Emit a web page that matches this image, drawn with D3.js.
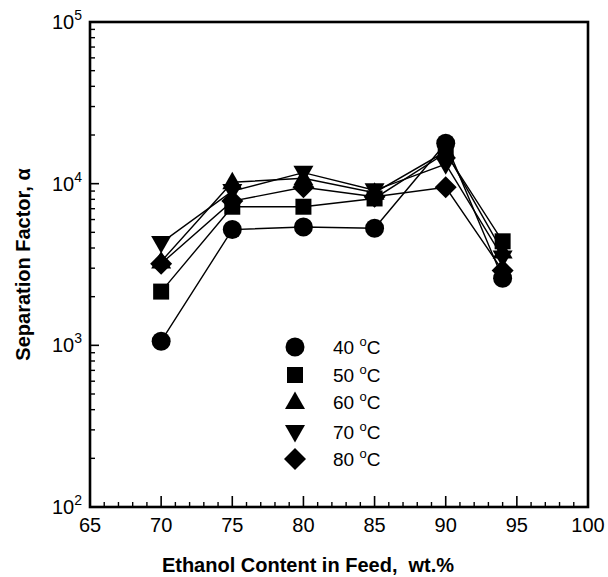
<!DOCTYPE html>
<html>
<head>
<meta charset="utf-8">
<script src="https://cdn.jsdelivr.net/npm/d3@7"></script>
<style>
  body { margin: 0; background: #fff; }
  svg { display: block; }
  text { font-family: "Liberation Sans", Arial, sans-serif; fill: #000; }
</style>
</head>
<body>
<svg id="chart" width="608" height="577"></svg>
<script>
// ---- data ----
const xValues = [70, 75, 80, 85, 90, 94];
const series40 = [1060, 5200, 5400, 5300, 17800, 2600];
const series50 = [2150, 7200, 7200, 8100, 15500, 4400];
const series60 = [3300, 10200, 10800, 8800, 15800, 3800];
const series70 = [4300, 9000, 11700, 9100, 13200, 3500];
const series80 = [3200, 7800, 9500, 8300, 9500, 2900];
const seriesNames = ["40", "50", "60", "70", "80"];
const seriesSymbols = ["circle", "square", "triangleUp", "triangleDown", "diamond"];
const xTicks = [65, 70, 75, 80, 85, 90, 95, 100];
const yTickExponents = [2, 3, 4, 5];
const xTitle = "Ethanol Content in Feed,\u00A0 wt.%";
const yTitle = "Separation Factor, \u03B1";

const allSeries = [series40, series50, series60, series70, series80];

// ---- layout ----
const svg = d3.select("#chart");
const L = 90, R = 588, T = 22, B = 507;
const x = d3.scaleLinear().domain([65, 100]).range([L, R]);
const y = d3.scaleLog().domain([100, 100000]).range([B, T]);

function symbolPath(kind, cx, cy) {
  const p = d3.path();
  if (kind === "circle") { p.arc(cx, cy, 9.5, 0, 2 * Math.PI); }
  else if (kind === "square") { const h = 8; p.rect(cx - h, cy - h, 2 * h, 2 * h); }
  else if (kind === "triangleUp") { p.moveTo(cx, cy - 10.5); p.lineTo(cx + 10, cy + 7); p.lineTo(cx - 10, cy + 7); p.closePath(); }
  else if (kind === "triangleDown") { p.moveTo(cx, cy + 10.5); p.lineTo(cx + 10, cy - 7); p.lineTo(cx - 10, cy - 7); p.closePath(); }
  else if (kind === "diamond") { const h = 11; p.moveTo(cx, cy - h); p.lineTo(cx + h, cy); p.lineTo(cx, cy + h); p.lineTo(cx - h, cy); p.closePath(); }
  return p.toString();
}

// lines
const line = d3.line().x((d, i) => x(xValues[i])).y(d => y(d));
allSeries.forEach(s => {
  svg.append("path").attr("d", line(s)).attr("fill", "none")
    .attr("stroke", "#000").attr("stroke-width", 1.4);
});
// markers
allSeries.forEach((s, k) => {
  s.forEach((v, i) => {
    svg.append("path").attr("d", symbolPath(seriesSymbols[k], x(xValues[i]), y(v))).attr("fill", "#000");
  });
});

// frame
svg.append("rect").attr("x", L).attr("y", T).attr("width", R - L).attr("height", B - T)
  .attr("fill", "none").attr("stroke", "#000").attr("stroke-width", 2.6);

// x ticks (inside, bottom)
const xMinor = d3.range(66, 100, 1).filter(v => v % 5 !== 0);
xMinor.forEach(v => {
  svg.append("line").attr("x1", x(v)).attr("x2", x(v)).attr("y1", B).attr("y2", B - 5)
    .attr("stroke", "#000").attr("stroke-width", 1.4);
});
xTicks.forEach(v => {
  svg.append("line").attr("x1", x(v)).attr("x2", x(v)).attr("y1", B).attr("y2", B - 11)
    .attr("stroke", "#000").attr("stroke-width", 1.6);
  svg.append("text").attr("x", x(v)).attr("y", B + 25).attr("text-anchor", "middle")
    .attr("font-size", 20).text(v);
});

// y ticks (inside, left)
yTickExponents.forEach(e => {
  const v = Math.pow(10, e);
  svg.append("line").attr("x1", L).attr("x2", L + 9).attr("y1", y(v)).attr("y2", y(v))
    .attr("stroke", "#000").attr("stroke-width", 1.6);
  if (e < 5) {
    for (let m = 2; m <= 9; m++) {
      svg.append("line").attr("x1", L).attr("x2", L + 5).attr("y1", y(m * v)).attr("y2", y(m * v))
        .attr("stroke", "#000").attr("stroke-width", 1.4);
    }
  }
  const t = svg.append("text").attr("x", L - 8).attr("y", y(v) + 7).attr("text-anchor", "end")
    .attr("font-size", 20);
  t.append("tspan").text("10");
  t.append("tspan").attr("font-size", 14).attr("dy", -9).text(e);
});

// axis titles
svg.append("text").attr("x", 308).attr("y", 572).attr("text-anchor", "middle")
  .attr("font-size", 20).attr("font-weight", "bold").text(xTitle);
svg.append("text").attr("transform", `translate(30, ${(T + B) / 2}) rotate(-90)`)
  .attr("text-anchor", "middle").attr("font-size", 20).attr("font-weight", "bold").text(yTitle);

// legend
const legX = 295, legTextX = 333;
const legY = [347, 375, 402, 432, 459];
seriesNames.forEach((n, k) => {
  svg.append("path").attr("d", symbolPath(seriesSymbols[k], legX, legY[k])).attr("fill", "#000");
  const t = svg.append("text").attr("x", legTextX).attr("y", legY[k] + 7).attr("font-size", 19);
  t.append("tspan").text(n + " ");
  t.append("tspan").attr("font-size", 13).attr("dy", -8).text("o");
  t.append("tspan").attr("dy", 8).text("C");
});
</script>
</body>
</html>
